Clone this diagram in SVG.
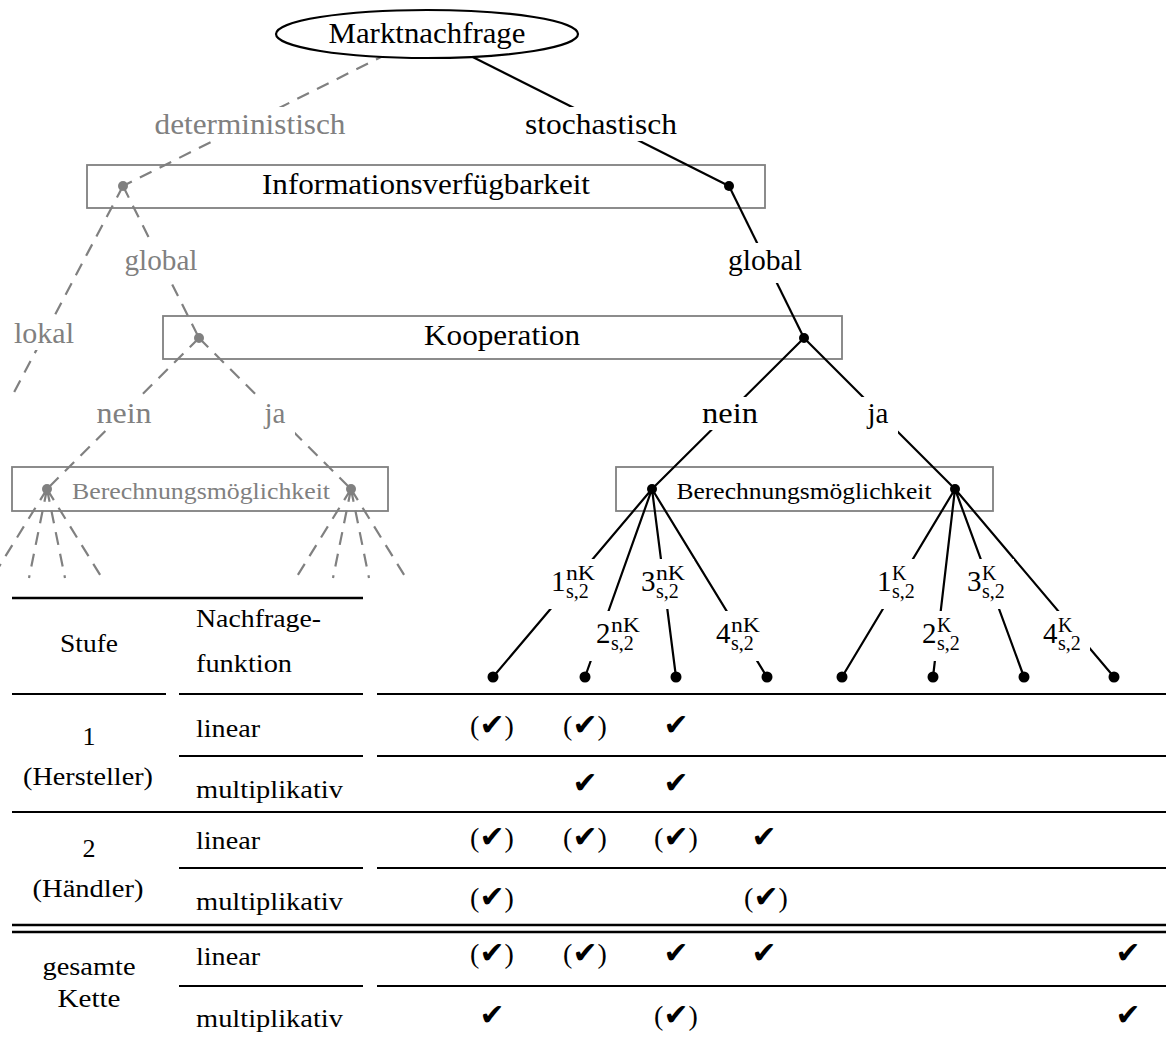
<svg xmlns="http://www.w3.org/2000/svg" width="1166" height="1039" viewBox="0 0 1166 1039">
<style>
.t{font-family:"Liberation Serif","Times New Roman",serif;}
.f29{font-size:29px}
.f26{font-size:26px}
.f24{font-size:24px}
.f20{font-size:20px}
.g{fill:#808080}
.k{fill:#000}
.box{fill:none;stroke:#808080;stroke-width:1.8}
.ln{stroke:#000;stroke-width:2.2;fill:none}
.dl{stroke:#808080;stroke-width:2.2;stroke-dasharray:13 9;fill:none}
.bg{fill:#fff}
.rule{stroke:#000;stroke-width:2.3}
.mrule{stroke:#000;stroke-width:2}
.ck{font-family:"DejaVu Sans",sans-serif;font-size:30px}
.par{font-size:28px}
.dg{fill:#808080}
.dk{fill:#000}
</style>
<defs>
<clipPath id="fanclip"><rect x="0" y="0" width="1166" height="579"/></clipPath>
</defs>

<g id="box-info"><rect class="box" x="87" y="165" width="678" height="43"/><text class="t f29 k" x="426" y="194" text-anchor="middle" textLength="328" lengthAdjust="spacingAndGlyphs">Informationsverfügbarkeit</text></g>
<g id="box-koop"><rect class="box" x="163" y="316" width="679" height="43"/><text class="t f29 k" x="502" y="345" text-anchor="middle" textLength="156" lengthAdjust="spacingAndGlyphs">Kooperation</text></g>
<g id="box-ber-grey"><rect class="box" x="12" y="467" width="376" height="44"/><text class="t f24 g" x="201" y="499" text-anchor="middle" textLength="258" lengthAdjust="spacingAndGlyphs">Berechnungsmöglichkeit</text></g>
<g id="box-ber-black"><rect class="box" x="616" y="467" width="377" height="44"/><text class="t f24 k" x="804" y="499" text-anchor="middle" textLength="255" lengthAdjust="spacingAndGlyphs">Berechnungsmöglichkeit</text></g>

<g id="connectors">
<path class="dl" d="M427,34 L123,186"/>
<path class="dl" d="M123,186 L10,400"/>
<path class="dl" d="M123,186 L199,338"/>
<path class="dl" d="M199,338 L47,489"/>
<path class="dl" d="M199,338 L351,489"/>
<g clip-path="url(#fanclip)">
<path class="dl" d="M47,489 L-8,578 M47,489 L29,578 M47,489 L65,578 M47,489 L102,578"/>
<path class="dl" d="M351,489 L296,578 M351,489 L333,578 M351,489 L369,578 M351,489 L406,578"/>
</g>
<path class="ln" d="M427,34 L729,186"/>
<path class="ln" d="M729,186 L804,338"/>
<path class="ln" d="M804,338 L652,489 M804,338 L955,489"/>
<path class="ln" d="M652,489 L493,677 M652,489 L585,677 M652,489 L676,677 M652,489 L767,677"/>
<path class="ln" d="M955,489 L842,677 M955,489 L933,677 M955,489 L1024,677 M955,489 L1114,677"/>
</g>

<g id="node-markt"><ellipse cx="427" cy="34" rx="151" ry="24" fill="#fff" stroke="#000" stroke-width="2.2"/><text class="t f29 k" x="427" y="43" text-anchor="middle" textLength="197" lengthAdjust="spacingAndGlyphs">Marktnachfrage</text></g>

<g id="lbl-det"><rect class="bg" x="148" y="107" width="205" height="34"/><text class="t f29 g" x="250" y="134" text-anchor="middle" textLength="191" lengthAdjust="spacingAndGlyphs">deterministisch</text></g>
<g id="lbl-sto"><rect class="bg" x="518" y="107" width="166" height="34"/><text class="t f29 k" x="601" y="134" text-anchor="middle" textLength="152" lengthAdjust="spacingAndGlyphs">stochastisch</text></g>
<g id="lbl-global-g"><rect class="bg" x="118" y="243" width="87" height="40"/><text class="t f29 g" x="161" y="270" text-anchor="middle" textLength="73" lengthAdjust="spacingAndGlyphs">global</text></g>
<g id="lbl-global-k"><rect class="bg" x="721" y="243" width="88" height="40"/><text class="t f29 k" x="765" y="270" text-anchor="middle" textLength="74" lengthAdjust="spacingAndGlyphs">global</text></g>
<g id="lbl-lokal"><rect class="bg" x="7" y="316" width="74" height="34"/><text class="t f29 g" x="44" y="343" text-anchor="middle" textLength="60" lengthAdjust="spacingAndGlyphs">lokal</text></g>
<g id="lbl-nein-g"><rect class="bg" x="90" y="397" width="69" height="33"/><text class="t f29 g" x="124" y="423" text-anchor="middle" textLength="55" lengthAdjust="spacingAndGlyphs">nein</text></g>
<g id="lbl-ja-g"><rect class="bg" x="256" y="397" width="39" height="40"/><text class="t f29 g" x="275" y="423" text-anchor="middle">ja</text></g>
<g id="lbl-nein-k"><rect class="bg" x="695" y="397" width="70" height="33"/><text class="t f29 k" x="730" y="423" text-anchor="middle" textLength="56" lengthAdjust="spacingAndGlyphs">nein</text></g>
<g id="lbl-ja-k"><rect class="bg" x="859" y="397" width="39" height="40"/><text class="t f29 k" x="878" y="423" text-anchor="middle">ja</text></g>

<g id="leaf-nK1"><rect class="bg" x="544" y="559" width="60" height="50"/><text class="t f29 k" x="551" y="591">1<tspan class="f20" x="566" y="580" textLength="29" lengthAdjust="spacingAndGlyphs">nK</tspan><tspan class="f20" x="566" y="598">s,2</tspan></text></g>
<g id="leaf-nK2"><rect class="bg" x="589" y="611" width="60" height="50"/><text class="t f29 k" x="596" y="643">2<tspan class="f20" x="611" y="632" textLength="29" lengthAdjust="spacingAndGlyphs">nK</tspan><tspan class="f20" x="611" y="650">s,2</tspan></text></g>
<g id="leaf-nK3"><rect class="bg" x="634" y="559" width="60" height="50"/><text class="t f29 k" x="641" y="591">3<tspan class="f20" x="656" y="580" textLength="29" lengthAdjust="spacingAndGlyphs">nK</tspan><tspan class="f20" x="656" y="598">s,2</tspan></text></g>
<g id="leaf-nK4"><rect class="bg" x="709" y="611" width="60" height="50"/><text class="t f29 k" x="716" y="643">4<tspan class="f20" x="731" y="632" textLength="29" lengthAdjust="spacingAndGlyphs">nK</tspan><tspan class="f20" x="731" y="650">s,2</tspan></text></g>
<g id="leaf-K1"><rect class="bg" x="870" y="559" width="54" height="50"/><text class="t f29 k" x="877" y="591">1<tspan class="f20" x="892" y="580">K</tspan><tspan class="f20" x="892" y="598">s,2</tspan></text></g>
<g id="leaf-K2"><rect class="bg" x="915" y="611" width="54" height="50"/><text class="t f29 k" x="922" y="643">2<tspan class="f20" x="937" y="632">K</tspan><tspan class="f20" x="937" y="650">s,2</tspan></text></g>
<g id="leaf-K3"><rect class="bg" x="960" y="559" width="54" height="50"/><text class="t f29 k" x="967" y="591">3<tspan class="f20" x="982" y="580">K</tspan><tspan class="f20" x="982" y="598">s,2</tspan></text></g>
<g id="leaf-K4"><rect class="bg" x="1036" y="611" width="54" height="50"/><text class="t f29 k" x="1043" y="643">4<tspan class="f20" x="1058" y="632">K</tspan><tspan class="f20" x="1058" y="650">s,2</tspan></text></g>

<g id="dots">
<circle class="dg" cx="123" cy="186" r="5"/>
<circle class="dg" cx="199" cy="338" r="5"/>
<circle class="dg" cx="47" cy="489" r="5"/>
<circle class="dg" cx="351" cy="489" r="5"/>
<circle class="dk" cx="729" cy="186" r="5"/>
<circle class="dk" cx="804" cy="338" r="5"/>
<circle class="dk" cx="652" cy="489" r="5"/>
<circle class="dk" cx="955" cy="489" r="5"/>
<circle class="dk" cx="493" cy="677" r="5.5"/>
<circle class="dk" cx="585" cy="677" r="5.5"/>
<circle class="dk" cx="676" cy="677" r="5.5"/>
<circle class="dk" cx="767" cy="677" r="5.5"/>
<circle class="dk" cx="842" cy="677" r="5.5"/>
<circle class="dk" cx="933" cy="677" r="5.5"/>
<circle class="dk" cx="1024" cy="677" r="5.5"/>
<circle class="dk" cx="1114" cy="677" r="5.5"/>
</g>

<g id="table-rules">
<line class="rule" x1="12" y1="598" x2="363" y2="598"/>
<line class="mrule" x1="12" y1="694" x2="166" y2="694"/>
<line class="mrule" x1="179" y1="694" x2="363" y2="694"/>
<line class="mrule" x1="377" y1="694" x2="1166" y2="694"/>
<line class="mrule" x1="179" y1="756" x2="363" y2="756"/>
<line class="mrule" x1="377" y1="756" x2="1166" y2="756"/>
<line class="mrule" x1="12" y1="812" x2="1166" y2="812"/>
<line class="mrule" x1="179" y1="868" x2="363" y2="868"/>
<line class="mrule" x1="377" y1="868" x2="1166" y2="868"/>
<line class="rule" x1="12" y1="925" x2="1166" y2="925"/>
<line class="rule" x1="12" y1="932" x2="1166" y2="932"/>
<line class="mrule" x1="179" y1="986" x2="363" y2="986"/>
<line class="mrule" x1="377" y1="986" x2="1166" y2="986"/>
</g>

<g id="table-text" class="t f26 k">
<text x="89" y="652" text-anchor="middle" textLength="58" lengthAdjust="spacingAndGlyphs">Stufe</text>
<text x="196" y="627" textLength="125" lengthAdjust="spacingAndGlyphs">Nachfrage-</text>
<text x="196" y="672" textLength="96" lengthAdjust="spacingAndGlyphs">funktion</text>
<text x="89" y="745" text-anchor="middle">1</text>
<text x="88" y="785" text-anchor="middle" textLength="130" lengthAdjust="spacingAndGlyphs">(Hersteller)</text>
<text x="196" y="737" textLength="64" lengthAdjust="spacingAndGlyphs">linear</text>
<text x="196" y="798" textLength="147" lengthAdjust="spacingAndGlyphs">multiplikativ</text>
<text x="89" y="857" text-anchor="middle">2</text>
<text x="88" y="897" text-anchor="middle" textLength="111" lengthAdjust="spacingAndGlyphs">(Händler)</text>
<text x="196" y="849" textLength="64" lengthAdjust="spacingAndGlyphs">linear</text>
<text x="196" y="910" textLength="147" lengthAdjust="spacingAndGlyphs">multiplikativ</text>
<text x="89" y="975" text-anchor="middle" textLength="93" lengthAdjust="spacingAndGlyphs">gesamte</text>
<text x="89" y="1007" text-anchor="middle" textLength="63" lengthAdjust="spacingAndGlyphs">Kette</text>
<text x="196" y="965" textLength="64" lengthAdjust="spacingAndGlyphs">linear</text>
<text x="196" y="1027" textLength="147" lengthAdjust="spacingAndGlyphs">multiplikativ</text>
</g>

<g id="table-checks" class="t par k" text-anchor="middle">
<text x="492" y="735">(<tspan class="ck">✔</tspan>)</text>
<text x="585" y="735">(<tspan class="ck">✔</tspan>)</text>
<text x="676" y="735"><tspan class="ck">✔</tspan></text>
<text x="585" y="793"><tspan class="ck">✔</tspan></text>
<text x="676" y="793"><tspan class="ck">✔</tspan></text>
<text x="492" y="847">(<tspan class="ck">✔</tspan>)</text>
<text x="585" y="847">(<tspan class="ck">✔</tspan>)</text>
<text x="676" y="847">(<tspan class="ck">✔</tspan>)</text>
<text x="764" y="847"><tspan class="ck">✔</tspan></text>
<text x="492" y="907">(<tspan class="ck">✔</tspan>)</text>
<text x="766" y="907">(<tspan class="ck">✔</tspan>)</text>
<text x="492" y="963">(<tspan class="ck">✔</tspan>)</text>
<text x="585" y="963">(<tspan class="ck">✔</tspan>)</text>
<text x="676" y="963"><tspan class="ck">✔</tspan></text>
<text x="764" y="963"><tspan class="ck">✔</tspan></text>
<text x="1128" y="963"><tspan class="ck">✔</tspan></text>
<text x="492" y="1025"><tspan class="ck">✔</tspan></text>
<text x="676" y="1025">(<tspan class="ck">✔</tspan>)</text>
<text x="1128" y="1025"><tspan class="ck">✔</tspan></text>
</g>
</svg>
